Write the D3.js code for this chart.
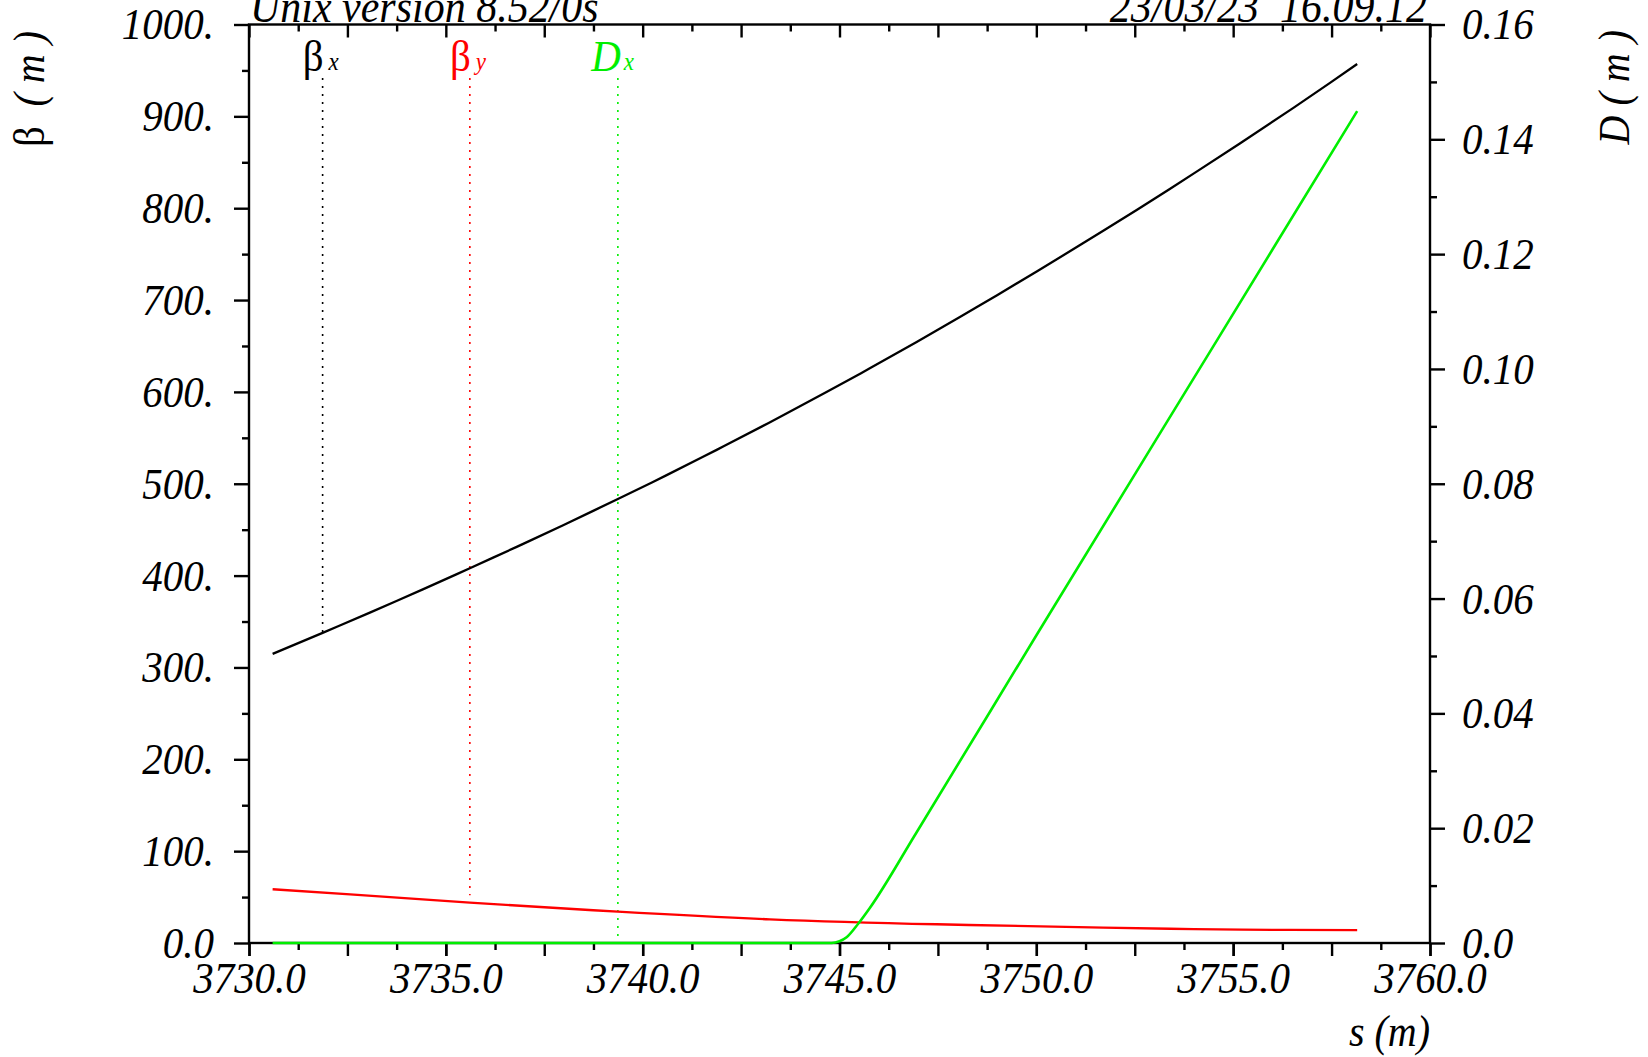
<!DOCTYPE html>
<html><head><meta charset="utf-8">
<script src="https://cdn.jsdelivr.net/npm/d3@7"></script>
<style>
html,body{margin:0;padding:0;background:#fff;}
svg{display:block;}
text{font-family:"Liberation Serif","Times New Roman",serif;}
</style></head><body>
<svg id="chart" width="1648" height="1057"></svg>
<script>
// ---- data ----
const sBetaX = [3730.60,3731.87,3733.07,3734.43,3735.61,3736.80,3737.98,3739.37,3740.61,3741.88,3743.20,3744.67,3745.77,3746.96,3748.48,3750.01,3751.70,3753.39,3755.17,3756.53,3757.46,3758.15];
const betaX  = [314.8,337.7,359.7,385.3,408.0,431.3,454.9,483.4,509.4,536.9,566.2,599.8,625.7,654.4,692.1,731.1,775.4,821.0,870.5,909.2,936.4,957.0];
const sBetaY = [3730.60,3732.57,3735.61,3739.37,3743.23,3747.47,3751.70,3754.00,3756.44,3758.15];
const betaY  = [58.5,53.0,43.9,34.1,25.8,20.4,16.7,15.2,14.2,14.0];
const sDx    = [3730.60,3744.80,3745.00,3745.18,3745.48,3745.77,3746.96,3750.01,3754.58,3758.15];
const Dx     = [0,0,0.0003,0.0010,0.0034,0.0061,0.0193,0.0537,0.1049,0.1449];

const xTickValues = [3730,3735,3740,3745,3750,3755,3760];
const xTickLabels = ["3730.0","3735.0","3740.0","3745.0","3750.0","3755.0","3760.0"];
const betaTickValues = [0,100,200,300,400,500,600,700,800,900,1000];
const betaTickLabels = ["0.0","100.","200.","300.","400.","500.","600.","700.","800.","900.","1000."];
const dTickValues = [0,0.02,0.04,0.06,0.08,0.10,0.12,0.14,0.16];
const dTickLabels = ["0.0","0.02","0.04","0.06","0.08","0.10","0.12","0.14","0.16"];

const markerNames = ["β","β","D"];
const markerSubs  = ["x","y","x"];
const markerS     = [3731.87,3735.61,3739.37];
const markerColors = ["#000000","#ff0000","#00ee00"];
const titleLeft = "Unix version 8.52/0s";
const titleRight = "23/03/23  16.09.12";

// ---- layout ----
const L=249, R=1430, T=24.5, B=943;
const SY=1.1; // vertical stretch of the plotter font
const svg=d3.select("#chart");
const x=d3.scaleLinear().domain([3730,3760]).range([L,R]);
const yB=d3.scaleLinear().domain([0,1000]).range([B,T]);
const yD=d3.scaleLinear().domain([0,0.16]).range([B,T]);

function styleAxis(g){
  g.select(".domain").remove();
  g.selectAll(".tick line").attr("stroke","#000").attr("stroke-width",2.4);
  g.selectAll(".tick text").attr("fill","#000").style("font-size","41px").style("font-style","italic")
   .style("font-family","'Liberation Serif',serif").attr("transform",`scale(1,${SY})`);
}
function txt(xp,yp,size,str,opts={}){
  const t=svg.append("text").attr("transform",`translate(${xp},${yp}) ${opts.rot?"rotate(-90)":""} scale(1,${SY})`)
    .attr("text-anchor",opts.anchor||"start").attr("fill",opts.color||"#000")
    .style("font-size",size+"px").style("font-style",opts.italic===false?"normal":"italic").style("white-space","pre");
  if(str!==null) t.text(str);
  return t;
}

// bottom ticks
const xMinor = d3.range(3730,3760.01,1.25).filter(v=>Math.abs((v/2.5)-Math.round(v/2.5))>1e-6);
const xMid = d3.range(3730,3760.01,2.5);
svg.append("g").attr("transform",`translate(0,${B})`).call(d3.axisBottom(x).tickValues(xMinor).tickSize(7).tickFormat("")).call(styleAxis);
svg.append("g").attr("transform",`translate(0,${B})`).call(d3.axisBottom(x).tickValues(xMid).tickSize(13).tickFormat("")).call(styleAxis);
svg.append("g").attr("transform",`translate(0,${B})`)
  .call(d3.axisBottom(x).tickValues(xTickValues).tickSize(13).tickPadding(3).tickFormat((d,i)=>xTickLabels[i])).call(styleAxis);
// top ticks (inward)
svg.append("g").attr("transform",`translate(0,${T})`).call(d3.axisBottom(x).tickValues(xMinor).tickSize(7).tickFormat("")).call(styleAxis);
svg.append("g").attr("transform",`translate(0,${T})`).call(d3.axisBottom(x).tickValues(xMid).tickSize(13).tickFormat("")).call(styleAxis);

// left axis
const bMinor = d3.range(50,1000,100);
svg.append("g").attr("transform",`translate(${L},0)`).call(d3.axisLeft(yB).tickValues(bMinor).tickSize(7).tickFormat("")).call(styleAxis);
svg.append("g").attr("transform",`translate(${L},0)`)
  .call(d3.axisLeft(yB).tickValues(betaTickValues).tickSize(15).tickPadding(20).tickFormat((d,i)=>betaTickLabels[i])).call(styleAxis);
// right axis
const dMinor = [0.01,0.03,0.05,0.07,0.09,0.11,0.13,0.15];
svg.append("g").attr("transform",`translate(${R},0)`).call(d3.axisRight(yD).tickValues(dMinor).tickSize(7).tickFormat("")).call(styleAxis);
svg.append("g").attr("transform",`translate(${R},0)`)
  .call(d3.axisRight(yD).tickValues(dTickValues).tickSize(15).tickPadding(17).tickFormat((d,i)=>dTickLabels[i])).call(styleAxis);

// frame
svg.append("rect").attr("x",L).attr("y",T).attr("width",R-L).attr("height",B-T)
  .attr("fill","none").attr("stroke","#000").attr("stroke-width",2.4);

// titles
txt(250,22,42,titleLeft);
txt(1427,22,42,titleRight,{anchor:"end"});

// axis titles
const lt = txt(44,31,40,null,{rot:true,anchor:"end",italic:false});
lt.append("tspan").text("β  ");
lt.append("tspan").style("font-style","italic").text("( m )");
txt(1629,30,40,"D ( m )",{rot:true,anchor:"end"});
txt(1430,1046,40,"s (m)",{anchor:"end"});

// marker dotted lines and labels
const markerEnd = [yB(338), yB(52), yD(0.0012)];
markerS.forEach((s,i)=>{
  svg.append("line").attr("x1",x(s)).attr("x2",x(s)).attr("y1",78).attr("y2",markerEnd[i])
    .attr("stroke",markerColors[i]).attr("stroke-width",1.6).attr("stroke-dasharray","2,6");
  txt(x(s)+(i===2?3:1),71,41,markerNames[i],{anchor:"end",color:markerColors[i],italic:i===2});
  txt(x(s)+6,70,23,markerSubs[i],{color:markerColors[i]});
});

// curves
const mk=(cv)=>(xs,ys,sc)=>d3.line().curve(cv)(xs.map((s,i)=>[x(s),sc(ys[i])]));
svg.append("path").attr("d",mk(d3.curveNatural)(sBetaX,betaX,yB)).attr("fill","none").attr("stroke","#000").attr("stroke-width",2.3);
svg.append("path").attr("d",mk(d3.curveNatural)(sBetaY,betaY,yB)).attr("fill","none").attr("stroke","#ff0000").attr("stroke-width",2.3);
svg.append("path").attr("d",mk(d3.curveMonotoneX)(sDx,Dx,yD)).attr("fill","none").attr("stroke","#00ee00").attr("stroke-width",2.6);
</script>
</body></html>
